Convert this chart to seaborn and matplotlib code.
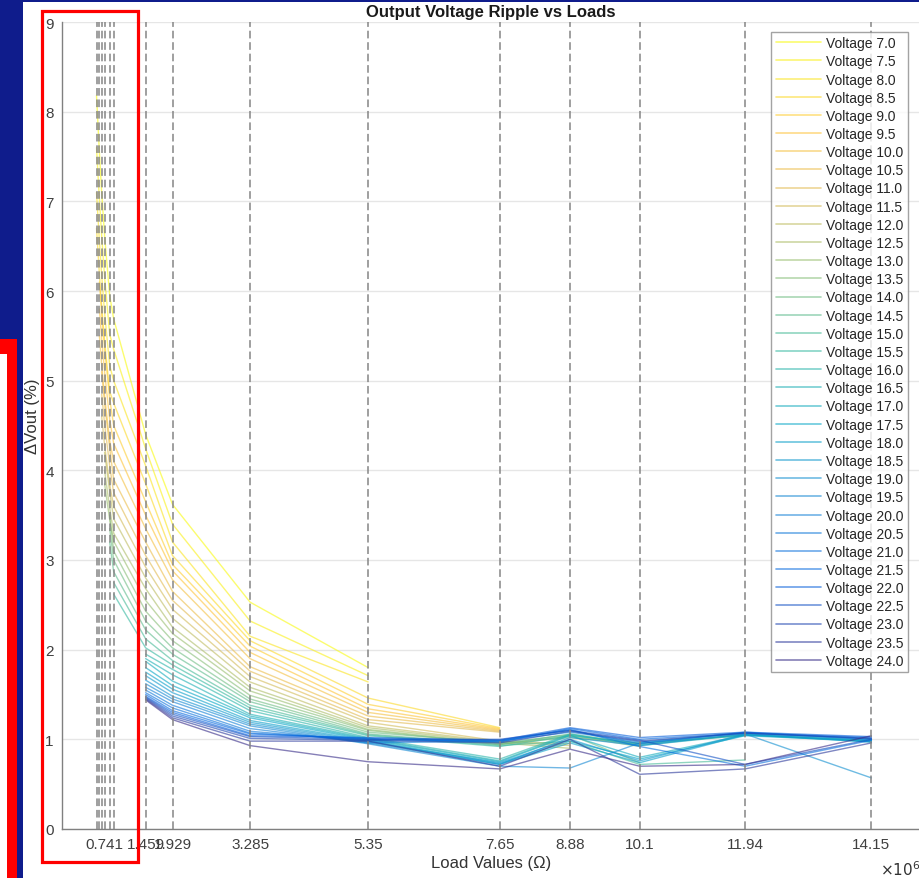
import pandas as pd
import seaborn as sns
import matplotlib.pyplot as plt
from matplotlib.colors import LinearSegmentedColormap
from matplotlib.lines import Line2D
from matplotlib.patches import Rectangle

# data
voltages = [7.0, 7.5, 8.0, 8.5, 9.0, 9.5, 10.0, 10.5, 11.0, 11.5, 12.0, 12.5,
            13.0, 13.5, 14.0, 14.5, 15.0, 15.5, 16.0, 16.5, 17.0, 17.5, 18.0,
            18.5, 19.0, 19.5, 20.0, 20.5, 21.0, 21.5, 22.0, 22.5, 23.0, 23.5, 24.0]

# load points of the sweep (x 1e6 ohm), also drawn as dashed lines
load_grid = [0.60, 0.65, 0.69, 0.741, 0.83, 0.90, 1.459, 1.929, 3.285, 5.35,
             7.65, 8.88, 10.1, 11.94, 14.15]

# index in load_grid where each voltage's sweep starts
start_idx = [0, 0, 0, 0, 1, 1, 1, 2, 2, 2, 3, 3, 3, 4, 4, 4, 5, 5,
             6, 6, 6, 6, 6, 6, 6, 6, 6, 6, 6, 6, 6, 6, 6, 6, 6]

# ripple (%) at consecutive loads from the start point
ripple = [
    [8.18, 7.55, 7.10, 6.62, 5.95, 5.69, 4.40, 3.62, 2.53, 1.80],
    [7.60, 7.02, 6.62, 6.16, 5.52, 5.35, 4.24, 3.40, 2.32, 1.71],
    [7.10, 6.56, 6.18, 5.76, 5.17, 5.00, 4.05, 3.20, 2.15, 1.64],
    [6.70, 6.19, 5.83, 5.44, 4.88, 4.75, 3.85, 3.05, 2.10, 1.46, 1.13],
    [6.10, 5.75, 5.36, 4.80, 4.50, 3.65, 2.95, 2.04, 1.39, 1.12],
    [5.80, 5.47, 5.10, 4.57, 4.30, 3.50, 2.88, 1.97, 1.34, 1.11],
    [5.50, 5.18, 4.83, 4.33, 4.10, 3.35, 2.78, 1.90, 1.30, 1.10],
    [5.10, 4.75, 4.25, 3.90, 3.20, 2.65, 1.81, 1.26, 1.09],
    [4.85, 4.52, 4.05, 3.75, 3.05, 2.55, 1.76, 1.22, 1.08],
    [4.60, 4.28, 3.84, 3.60, 2.92, 2.45, 1.70, 1.19, 0.98, 0.95],
    [4.20, 3.76, 3.46, 2.80, 2.35, 1.64, 1.15, 0.97, 0.93],
    [4.00, 3.58, 3.30, 2.68, 2.25, 1.58, 1.13, 0.96, 0.90],
    [3.85, 3.45, 3.21, 2.55, 2.18, 1.54, 1.11, 0.95, 1.02, 0.95],
    [3.50, 3.10, 2.43, 2.10, 1.49, 1.10, 0.94, 1.04, 0.92],
    [3.35, 3.00, 2.32, 2.02, 1.45, 1.08, 0.96, 1.05, 0.74],
    [3.20, 2.87, 2.22, 1.95, 1.42, 1.06, 0.94, 1.06, 0.95, 1.05],
    [2.75, 2.12, 1.88, 1.38, 1.05, 0.93, 0.98, 0.72, 0.77],
    [2.62, 2.02, 1.83, 1.35, 1.04, 0.92, 1.04, 0.96, 1.04],
    [1.95, 1.78, 1.32, 1.02, 0.78, 1.06, 0.93, 1.05, 0.98],
    [1.90, 1.72, 1.28, 1.01, 0.76, 1.05, 0.94, 1.06, 0.99],
    [1.87, 1.65, 1.26, 1.00, 0.75, 1.04, 0.80, 1.05, 0.97],
    [1.80, 1.60, 1.24, 0.99, 0.73, 0.98, 0.78, 1.04, 0.98],
    [1.75, 1.56, 1.21, 0.98, 0.72, 0.96, 0.74, 1.05, 0.99],
    [1.71, 1.52, 1.19, 0.97, 0.74, 1.00, 0.76, 1.06, 0.97],
    [1.66, 1.48, 1.17, 0.96, 0.72, 1.02, 0.93, 1.06, 0.57],
    [1.62, 1.45, 1.15, 0.95, 0.70, 0.68, 0.96, 1.07, 1.00],
    [1.58, 1.42, 1.12, 0.96, 0.98, 1.08, 0.97, 1.07, 1.01],
    [1.55, 1.38, 1.09, 0.98, 0.99, 1.10, 0.95, 1.08, 1.00],
    [1.52, 1.35, 1.07, 1.00, 0.98, 1.11, 0.92, 0.70, 0.99],
    [1.50, 1.32, 1.06, 1.01, 0.97, 1.12, 1.00, 1.07, 1.02],
    [1.48, 1.30, 1.04, 1.02, 0.99, 1.13, 1.02, 1.08, 1.03],
    [1.47, 1.28, 1.03, 1.00, 1.00, 1.10, 0.99, 0.72, 1.00],
    [1.46, 1.26, 1.01, 0.99, 0.96, 1.09, 0.98, 1.07, 1.01],
    [1.45, 1.24, 0.98, 0.98, 0.70, 1.00, 0.61, 0.67, 0.96],
    [1.44, 1.22, 0.93, 0.75, 0.67, 0.89, 0.70, 0.72, 1.04],
]

tick_loads = [0.741, 1.459, 1.929, 3.285, 5.35, 7.65, 8.88, 10.1, 11.94, 14.15]
tick_labels = ["0.741", "1.459", "1.929", "3.285", "5.35", "7.65", "8.88",
               "10.1", "11.94", "14.15"]

rows = []
for v, s, ys in zip(voltages, start_idx, ripple):
    for x, y in zip(load_grid[s:], ys):
        rows.append({"load": x, "ripple": y, "label": f"Voltage {v:.1f}"})
df = pd.DataFrame(rows)
labels = [f"Voltage {v:.1f}" for v in voltages]

# MATLAB parula, reversed so that low voltage = yellow
parula = LinearSegmentedColormap.from_list("parula", [
    (0 / 63, (0.2081, 0.1663, 0.5292)),
    (8 / 63, (0.0117, 0.3875, 0.8820)),
    (16 / 63, (0.0793, 0.5200, 0.8312)),
    (24 / 63, (0.0228, 0.6535, 0.7768)),
    (32 / 63, (0.2178, 0.7250, 0.6193)),
    (40 / 63, (0.5709, 0.7485, 0.4494)),
    (48 / 63, (0.8824, 0.7274, 0.3217)),
    (54 / 63, (0.9990, 0.7653, 0.2164)),
    (63 / 63, (0.9763, 0.9831, 0.0538)),
])
n = len(voltages)
palette = [parula(1 - i / (n - 1)) for i in range(n)]

sns.set_style("white")
plt.rcParams["font.family"] = ["Liberation Sans", "DejaVu Sans"]

fig = plt.figure(figsize=(9.2, 8.79), dpi=100)
fig.patch.set_facecolor("#0f1c8c")
W, H = 920, 879


def fig_rect(x0, y0, x1, y1, **kw):
    # pixel box (top-left origin) -> figure fraction
    fig.add_artist(Rectangle((x0 / W, 1 - y1 / H), (x1 - x0) / W, (y1 - y0) / H,
                             transform=fig.transFigure, **kw))


fig_rect(23, 3, 920, 879, facecolor="white", edgecolor="none", zorder=0)
fig_rect(0, 340, 17, 879, facecolor="#ff0000", edgecolor="none", zorder=0)
fig_rect(0, 355, 7, 879, facecolor="white", edgecolor="none", zorder=0)

ax = fig.add_axes([62.2 / W, 1 - 830 / H, 1 - 62.2 / W, (830 - 23) / H])
ax.set_facecolor("white")

sns.lineplot(data=df, x="load", y="ripple", hue="label", hue_order=labels,
             palette=palette, estimator=None, sort=False, alpha=0.6,
             linewidth=1.0, legend=False, ax=ax, zorder=2)

for x in load_grid:
    ax.axvline(x, color="#858585", linestyle=(0, (5, 2.5)), linewidth=1.1, zorder=3)

ax.set_xlim(0, 15)
ax.set_ylim(0, 9)
ax.set_yticks(range(10))
ax.set_xticks(tick_loads)
ax.set_xticklabels(tick_labels)
ax.grid(axis="y", color="#e6e6e6", linewidth=1.0)
ax.grid(axis="x", visible=False)
for side in ["top", "right"]:
    ax.spines[side].set_visible(False)
for side in ["left", "bottom"]:
    ax.spines[side].set_color("#808080")
    ax.spines[side].set_linewidth(1.0)
ax.tick_params(direction="in", length=6, width=1.0, color="#808080",
               labelsize=11, labelcolor="#404040", pad=6)

ax.set_title("Output Voltage Ripple vs Loads", fontsize=12, fontweight="bold",
             color="#1a1a1a", pad=4)
ax.set_xlabel("Load Values (Ω)", fontsize=12, color="#333333", labelpad=3)
ax.set_ylabel("ΔVout (%)", fontsize=12, color="#333333")
ax.yaxis.set_label_coords(-0.026, 0.513)
ax.text(1.0, -0.037, r"$\times10^{6}$", transform=ax.transAxes, ha="right",
        va="top", fontsize=11, color="#333333")

handles = [Line2D([], [], color=c, alpha=0.6, linewidth=1.2) for c in palette]
leg = ax.legend(handles, labels, loc="upper right", fontsize=10,
                bbox_to_anchor=(908 / W, 1 - 33 / H), bbox_transform=fig.transFigure,
                borderaxespad=0, frameon=True, fancybox=False, labelspacing=0.3,
                handlelength=3.3, handletextpad=0.35, borderpad=0.3)
leg.get_frame().set_edgecolor("#8c8c8c")
leg.get_frame().set_linewidth(1.0)
for t in leg.get_texts():
    t.set_color("#262626")

# red highlight box drawn over the plot
fig_rect(41.5, 12, 138.3, 863.3, facecolor="none", edgecolor="#ff0000",
         linewidth=2.3, zorder=10)

fig.savefig("out.png", dpi=100)
